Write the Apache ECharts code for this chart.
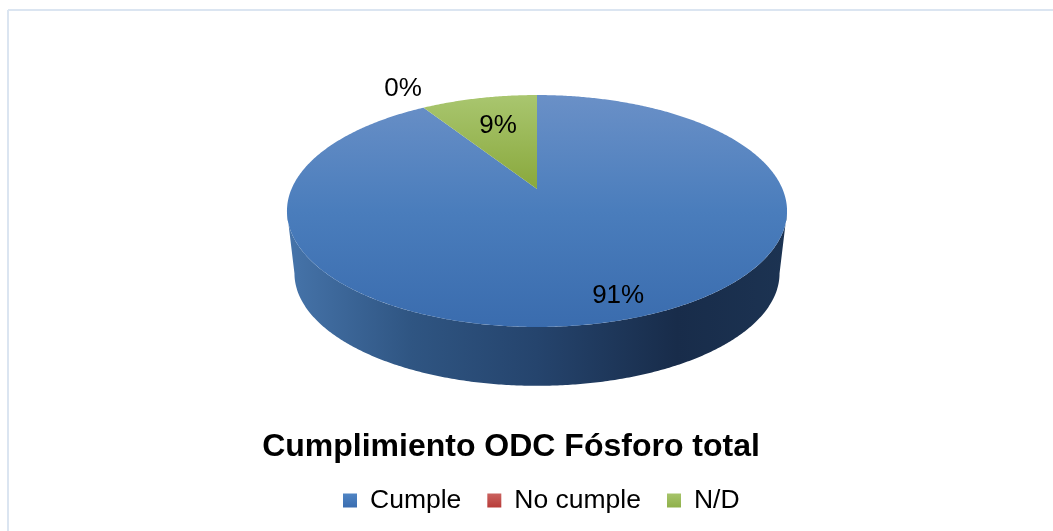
<!DOCTYPE html>
<html>
<head>
<meta charset="utf-8">
<script src="https://cdn.jsdelivr.net/npm/echarts@6/dist/echarts.min.js"></script>
<style>
  html, body { margin: 0; padding: 0; background: #fff; }
  #chart { width: 1053px; height: 531px; }
</style>
</head>
<body>
<div id="chart"></div>
<script>
  const categories = ['Cumple', 'No cumple', 'N/D'];
  const values = [91, 0, 9];
  const titleText = 'Cumplimiento ODC Fósforo total';

  const total = values.reduce((a, b) => a + b, 0);
  const font = '"Liberation Sans", Arial, sans-serif';

  // tilted disc: the apex sits above the middle of the ellipse, as in a perspective view
  const apex = [537, 189];
  const sx = 245.5, sy = 111.8, persp = -0.1897;
  const depthScale = 0.97, depthApexY = 252;
  const edgeFrom = 101, edgeTo = 259;

  const legendColors = [['#5085c4', '#3a6db0'], ['#ca625f', '#b83c39'], ['#a6c46a', '#8fb04a']];
  const topFaces = [
    [[0, '#6a90c7'], [0.5, '#4a7dbc'], [1, '#3a6cae']],
    [[0, '#cd6f6c'], [1, '#b03e3b']],
    [[0, '#a9c66f'], [1, '#89a83c']]
  ];
  const labelRadius = [0.845, 1.285, 0.677];
  const labelTurn = [-3.2, 1.5, 0.9];

  function project(deg, r, cy, scale) {
    const t = deg * Math.PI / 180;
    const u = r * Math.sin(t), v = -r * Math.cos(t);
    const d = 1 + persp * v;
    return [apex[0] + scale * sx * u / d, cy + scale * sy * v / d];
  }

  function arc(from, to, cy, scale) {
    const pts = [];
    const n = Math.max(2, Math.ceil(Math.abs(to - from) * 2));
    for (let i = 0; i <= n; i++) {
      pts.push(project(from + (to - from) * i / n, 1, cy, scale));
    }
    return pts;
  }

  function vertical(stops) {
    return new echarts.graphic.LinearGradient(0, 0, 0, 1, stops.map(function (s) {
      return { offset: s[0], color: s[1] };
    }));
  }

  function renderSlice(idx) {
    return function (params, api) {
      const before = values.slice(0, idx).reduce((a, b) => a + b, 0);
      const start = before / total * 360;
      const end = start + api.value(0) / total * 360;
      const children = [];

      const wallFrom = Math.max(start, edgeFrom), wallTo = Math.min(end, edgeTo);
      if (wallTo > wallFrom) {
        const wall = arc(wallFrom, wallTo, apex[1], 1)
          .concat(arc(wallTo, wallFrom, depthApexY, depthScale));
        children.push({
          type: 'polygon',
          shape: { points: wall },
          style: {
            fill: new echarts.graphic.LinearGradient(0, 0, 1, 0, [
              { offset: 0, color: '#4674aa' },
              { offset: 0.25, color: '#2f5582' },
              { offset: 0.5, color: '#25446d' },
              { offset: 0.78, color: '#182c4a' },
              { offset: 1, color: '#1c3352' }
            ])
          }
        });
      }

      const face = [apex].concat(arc(start, end, apex[1], 1));
      children.push({
        type: 'polygon',
        shape: { points: face },
        style: { fill: vertical(topFaces[idx]) }
      });

      const mid = (start + end) / 2 + labelTurn[idx];
      const pos = project(mid, labelRadius[idx], apex[1], 1);
      children.push({
        type: 'text',
        z2: 10,
        style: {
          x: pos[0],
          y: pos[1] + 2,
          text: api.value(0) + '%',
          font: '26px ' + font,
          fill: '#000',
          align: 'center',
          verticalAlign: 'middle'
        }
      });

      return { type: 'group', children: children };
    };
  }

  const chart = echarts.init(document.getElementById('chart'), null, { renderer: 'canvas' });
  chart.setOption({
    animation: false,
    backgroundColor: '#fff',
    title: {
      text: titleText,
      left: 506,
      top: 426,
      textAlign: 'center',
      textStyle: { fontFamily: font, fontSize: 32, fontWeight: 'bold', color: '#000' }
    },
    legend: {
      left: 338,
      top: 482,
      icon: 'rect',
      itemWidth: 14,
      itemHeight: 14,
      itemGap: 26,
      selectedMode: false,
      data: categories.map(function (name, i) {
        return {
          name: name,
          itemStyle: { color: vertical([[0, legendColors[i][0]], [1, legendColors[i][1]]]) }
        };
      }),
      textStyle: { fontFamily: font, fontSize: 26.5, color: '#000', padding: [0, 0, 0, 8] }
    },
    graphic: [
      { type: 'line', shape: { x1: 8, y1: 10, x2: 1053, y2: 10 }, style: { stroke: '#dbe5f1', lineWidth: 2 } },
      { type: 'line', shape: { x1: 8, y1: 10, x2: 8, y2: 531 }, style: { stroke: '#dbe5f1', lineWidth: 2 } }
    ],
    series: categories.map(function (name, i) {
      return {
        type: 'custom',
        name: name,
        coordinateSystem: 'none',
        silent: true,
        itemStyle: { color: legendColors[i][1] },
        data: [[values[i]]],
        renderItem: renderSlice(i)
      };
    })
  });
</script>
</body>
</html>
